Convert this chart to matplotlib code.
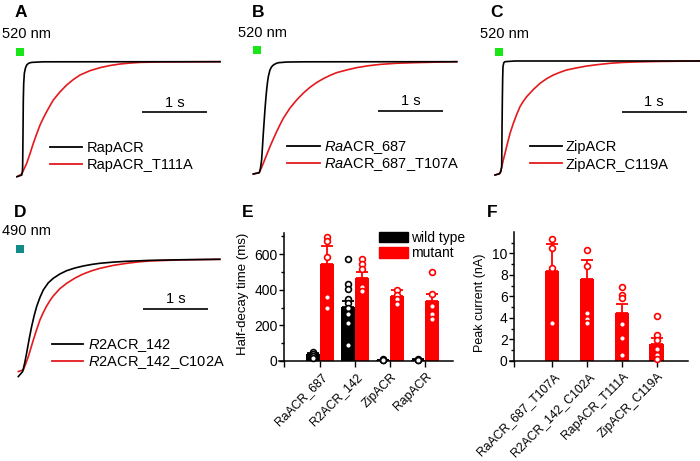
import matplotlib
matplotlib.use('Agg')
import matplotlib.pyplot as plt
from matplotlib.lines import Line2D
from matplotlib.patches import Rectangle
import matplotlib.transforms as mtransforms
import numpy as np

plt.rcParams['font.family'] = ['Liberation Sans', 'DejaVu Sans']
plt.rcParams['mathtext.fontset'] = 'custom'
plt.rcParams['mathtext.it'] = 'Liberation Sans:italic'
plt.rcParams['mathtext.rm'] = 'Liberation Sans'

# ---------------- data: normalized photocurrent traces (time in s) ----------------
tA_wt = [0, 0.072, 0.082, 0.087, 0.092, 0.097, 0.103, 0.113, 0.13, 0.149, 0.18, 0.226, 0.4, 3.123]
iA_wt = [-1, -0.986, -0.96, -0.913, -0.65, -0.333, -0.19, -0.101, -0.055, -0.029, -0.013, -0.006, -0.001, 0]
tA_mut = [0, 0.072, 0.149, 0.200, 0.251, 0.303, 0.354, 0.405, 0.456, 0.508, 0.559, 0.662, 0.764, 0.867,
          0.969, 1.123, 1.277, 1.431, 1.585, 1.738, 1.892, 2.2, 2.6, 3.123]
iA_mut = [-1, -0.977, -0.884, -0.80, -0.71, -0.628, -0.551, -0.49, -0.435, -0.382, -0.333, -0.262, -0.203,
          -0.155, -0.116, -0.078, -0.052, -0.033, -0.020, -0.012, -0.006, -0.002, -0.001, 0]

tB_wt = [0, 0.092, 0.11, 0.128, 0.141, 0.154, 0.167, 0.179, 0.192, 0.205, 0.218, 0.231, 0.256, 0.282,
         0.308, 0.346, 0.385, 0.513, 0.8, 3.13]
iB_wt = [-1, -0.988, -0.95, -0.875, -0.76, -0.638, -0.53, -0.43, -0.335, -0.252, -0.185, -0.134, -0.074,
         -0.045, -0.03, -0.017, -0.009, -0.003, -0.001, 0]
tB_mut = [0, 0.092, 0.154, 0.205, 0.256, 0.308, 0.359, 0.41, 0.462, 0.564, 0.667, 0.769, 0.872, 0.974,
          1.077, 1.18, 1.28, 1.44, 1.59, 1.77, 1.95, 2.2, 2.46, 2.8, 3.13]
iB_mut = [-1, -0.988, -0.905, -0.83, -0.757, -0.688, -0.623, -0.562, -0.504, -0.413, -0.341, -0.28, -0.228,
          -0.186, -0.151, -0.122, -0.098, -0.073, -0.053, -0.036, -0.024, -0.014, -0.009, -0.004, 0]

tC_wt = [0, 0.067, 0.09, 0.103, 0.108, 0.113, 0.118, 0.123, 0.135, 0.154, 0.3, 3.15]
iC_wt = [-1, -0.99, -0.97, -0.93, -0.6, -0.34, -0.15, -0.05, -0.015, -0.006, 0, 0]
tC_mut = [0, 0.077, 0.103, 0.128, 0.154, 0.179, 0.205, 0.231, 0.282, 0.333, 0.385, 0.436, 0.487, 0.59,
          0.692, 0.795, 0.897, 1.0, 1.10, 1.26, 1.41, 1.59, 1.77, 1.95, 2.13, 2.5, 3.15]
iC_mut = [-1, -0.985, -0.93, -0.868, -0.81, -0.751, -0.693, -0.635, -0.547, -0.47, -0.40, -0.353, -0.313,
          -0.25, -0.196, -0.155, -0.123, -0.099, -0.079, -0.06, -0.044, -0.031, -0.020, -0.013, -0.009,
          -0.004, 0]

tD_wt = [0, 0.067, 0.1, 0.128, 0.167, 0.205, 0.244, 0.282, 0.333, 0.385, 0.462, 0.538, 0.64, 0.744,
         0.872, 1.0, 1.128, 1.256, 1.46, 1.67, 2.03, 2.5, 3.1]
iD_wt = [-1, -0.957, -0.88, -0.80, -0.68, -0.574, -0.48, -0.403, -0.325, -0.261, -0.2, -0.162, -0.125,
         -0.097, -0.074, -0.057, -0.044, -0.034, -0.024, -0.017, -0.009, -0.004, 0]
tD_mut = [0, 0.077, 0.115, 0.154, 0.192, 0.231, 0.282, 0.333, 0.385, 0.436, 0.487, 0.538, 0.64, 0.744,
          0.872, 1.0, 1.128, 1.256, 1.46, 1.67, 1.85, 2.03, 2.5, 3.1]
iD_mut = [-0.957, -0.943, -0.89, -0.83, -0.76, -0.688, -0.60, -0.517, -0.453, -0.398, -0.352, -0.3125,
          -0.25, -0.205, -0.16, -0.125, -0.098, -0.077, -0.052, -0.034, -0.022, -0.014, -0.005, 0]

# ---------------- data: panel E (half-decay time, ms) ----------------
e_groups = ['RaACR_687', 'R2ACR_142', 'ZipACR', 'RapACR']
e_wt_mean = [40, 305, 4, 6]
e_wt_err = [6, 33, 2, 3]
e_mut_mean = [544, 467, 364, 338]
e_mut_err = [101, 34, 34, 36]
e_wt_pts = [[50, 40, 30, 19],
            [572, 432, 404, 348, 327, 295, 262, 215, 90],
            [11, 6, 3],
            [12, 8, 4]]
e_mut_pts = [[697, 675, 585, 361, 299],
             [570, 542, 516, 417, 392],
             [398, 372, 345, 320],
             [501, 374, 308, 262, 235]]

# ---------------- data: panel F (peak current, nA) ----------------
f_groups = ['RaACR_687_T107A', 'R2ACR_142_C102A', 'RapACR_T111A', 'ZipACR_C119A']
f_mean = [8.39, 7.58, 4.43, 1.58]
f_err = [2.44, 1.80, 0.86, 0.53]
f_pts = [[11.33, 10.46, 8.67, 3.50],
         [10.31, 8.85, 4.49, 3.90, 3.56],
         [6.90, 6.13, 5.82, 3.47, 2.11, 0.56],
         [4.21, 2.41, 1.95, 1.08, 0.56, 0.16]]

RED_TRACE = '#e3191c'
RED_BAR = '#ff0000'
GREEN = '#19e619'
TEAL = '#118a8a'

W, H = 700, 461
fig = plt.figure(figsize=(7, 4.61), dpi=100)


def fx(x):
    return x / W


def fy(y):
    return 1 - y / H


def ftext(x, y, s, **kw):
    return fig.text(fx(x), fy(y), s, **kw)


def fline(x0, x1, y, color):
    fig.add_artist(Line2D([fx(x0), fx(x1)], [fy(y), fy(y)], color=color, lw=1.3,
                          transform=fig.transFigure))


def trace_panel(letter, letter_xy, x0, yb, ppu, box, t_wt, i_wt, t_mut, i_mut,
                stim_xy, stim_color, nm_xy, nm_text, bar_x, bar_y, leg, pps=65.0):
    left, right, top, bottom = box
    ax = fig.add_axes([fx(left), fy(bottom), (right - left) / W, (bottom - top) / H])
    ax.set_xlim((left - x0) / pps, (right - x0) / pps)
    ax.set_ylim(-(bottom - yb) / ppu, (yb - top) / ppu)
    ax.axis('off')
    ax.plot(t_mut, i_mut, color=RED_TRACE, lw=1.2, solid_joinstyle='round')
    ax.plot(t_wt, i_wt, color='black', lw=1.2, solid_joinstyle='round')
    # stimulus marker
    ax.plot([(stim_xy[0] - x0) / pps], [(yb - stim_xy[1]) / ppu], marker='s', ms=5.8,
            mew=0, color=stim_color, clip_on=False)
    # scale bar 1 s
    ts = (bar_x - x0) / pps
    yv = (yb - bar_y) / ppu
    ax.plot([ts, ts + 1], [yv, yv], color='black', lw=1.2, solid_capstyle='butt')
    ax.text(ts + 0.5, (yb - (bar_y - 5.6)) / ppu, '1 s', ha='center', va='baseline', fontsize=10.5)
    ftext(nm_xy[0], nm_xy[1], nm_text, ha='left', va='baseline', fontsize=10.5)
    ftext(letter_xy[0], letter_xy[1], letter, ha='left', va='baseline', fontsize=12.5,
          fontweight='bold')
    lx0, lx1, ly1, ly2, tx, lab1, lab2 = leg
    fline(lx0, lx1, ly1, 'black')
    fline(lx0, lx1, ly2, RED_TRACE)
    ftext(tx, ly1 + 5.2, lab1, ha='left', va='baseline', fontsize=10.5)
    ftext(tx, ly2 + 5.2, lab2, ha='left', va='baseline', fontsize=10.5)
    return ax


trace_panel('A', (15, 17), 17, 61.7, 115, (5, 228, 40, 185), tA_wt, iA_wt, tA_mut, iA_mut,
            (20, 52), GREEN, (1.7, 38.3), '520 nm', 142, 112.3,
            (50, 82, 146.7, 164, 87, 'RapACR', 'RapACR_T111A'))
trace_panel('B', (251.5, 16.7), 253.3, 61.7, 112.3, (240, 462, 40, 185), tB_wt, iB_wt, tB_mut, iB_mut,
            (256.7, 50.3), GREEN, (238.3, 37.3), '520 nm', 378.3, 111,
            (287.3, 320, 145.7, 163.3, 324, r'$\mathit{Ra}$ACR_687', r'$\mathit{Ra}$ACR_687_T107A'))
trace_panel('C', (490, 17), 495, 61, 114, (485, 700, 40, 185), tC_wt, iC_wt, tC_mut, iC_mut,
            (498.8, 51.7), GREEN, (480, 38.3), '520 nm', 621.7, 112,
            (530, 561.7, 145.7, 163.3, 566, 'ZipACR', 'ZipACR_C119A'))
trace_panel('D', (14, 217), 18.3, 259.3, 117.3, (5, 228, 240, 385), tD_wt, iD_wt, tD_mut, iD_mut,
            (20, 248.7), TEAL, (1.7, 235), '490 nm', 143.3, 309,
            (51.7, 83.3, 344, 361, 88, r'$\mathit{R}$2ACR_142', r'$\mathit{R}$2ACR_142_C102A'))


def style_bar_axes(ax, spine_x, tick_labels, major, minor):
    for s in ['top', 'right']:
        ax.spines[s].set_visible(False)
    ax.spines['left'].set_position(('data', spine_x))
    for s in ['left', 'bottom']:
        ax.spines[s].set_linewidth(1.1)
    ax.set_yticks(major)
    ax.set_yticks(minor, minor=True)
    ax.tick_params(axis='y', which='major', direction='out', length=3.3, width=1.0, pad=1.5,
                   labelsize=10)
    ax.tick_params(axis='y', which='minor', direction='out', length=2.0, width=1.0)
    ax.set_xticks([spine_x] + list(range(len(tick_labels))))
    ax.set_xticklabels([''] + tick_labels, rotation=45, ha='right', va='top',
                       rotation_mode='anchor', fontsize=8.8)
    ax.tick_params(axis='x', direction='out', length=4.5, width=1.0, pad=2.5)
    off = mtransforms.ScaledTranslation(1 / 100, 0, fig.dpi_scale_trans)
    for lab in ax.get_xticklabels():
        lab.set_transform(lab.get_transform() + off)


# ---------------- panel E ----------------
e_x0, e_dx = 320.0, 35.0
e_left, e_right, e_top, e_bottom = 279, 453, 233.5, 361
axE = fig.add_axes([fx(e_left), fy(e_bottom), (e_right - e_left) / W, (e_bottom - e_top) / H])
axE.set_xlim((e_left - e_x0) / e_dx, (e_right - e_x0) / e_dx)
axE.set_ylim(0, 715)
xe = np.arange(len(e_groups))
axE.bar(xe - 0.2, e_wt_mean, width=0.4, color='black', zorder=2)
axE.bar(xe + 0.2, e_mut_mean, width=0.4, color=RED_BAR, zorder=2)
axE.errorbar(xe - 0.2, e_wt_mean, yerr=[np.zeros(len(xe)), e_wt_err], fmt='none', ecolor='black',
             elinewidth=1.3, capsize=4.3, capthick=1.3, zorder=3)
axE.errorbar(xe + 0.2, e_mut_mean, yerr=[np.zeros(len(xe)), e_mut_err], fmt='none', ecolor=RED_BAR,
             elinewidth=1.3, capsize=4.3, capthick=1.3, zorder=3)
for i, pts in enumerate(e_wt_pts):
    axE.plot([i - 0.2] * len(pts), pts, 'o', ms=4.2, mfc='white', mec='black', mew=1.2,
             zorder=4, clip_on=False)
for i, pts in enumerate(e_mut_pts):
    axE.plot([i + 0.2] * len(pts), pts, 'o', ms=4.2, mfc='white', mec=RED_BAR, mew=1.2,
             zorder=4, clip_on=False)
style_bar_axes(axE, (284.3 - e_x0) / e_dx, e_groups, [0, 200, 400, 600], [100, 300, 500, 700])
ftext(243, 293.5, 'Half-decay time (ms)', rotation=90, ha='center', va='center', fontsize=9.5)
ftext(241.5, 217, 'E', ha='left', va='baseline', fontsize=12.5, fontweight='bold')
# legend of E
fig.add_artist(Rectangle((fx(379.3), fy(242.3)), (407.7 - 379.3) / W, (242.3 - 231.7) / H,
                         color='black', transform=fig.transFigure))
fig.add_artist(Rectangle((fx(379.3), fy(257.7)), (407.7 - 379.3) / W, (257.7 - 246.7) / H,
                         color=RED_BAR, transform=fig.transFigure))
ftext(411, 241.7, 'wild type', ha='left', va='baseline', fontsize=10)
ftext(411, 256.7, 'mutant', ha='left', va='baseline', fontsize=10)

# ---------------- panel F ----------------
f_x0, f_dx = 551.9, 34.9
f_left, f_right, f_top, f_bottom = 510, 688, 231.8, 361
axF = fig.add_axes([fx(f_left), fy(f_bottom), (f_right - f_left) / W, (f_bottom - f_top) / H])
axF.set_xlim((f_left - f_x0) / f_dx, (f_right - f_x0) / f_dx)
axF.set_ylim(0, 12)
xf = np.arange(len(f_groups))
axF.bar(xf, f_mean, width=0.41, color=RED_BAR, zorder=2)
axF.errorbar(xf, f_mean, yerr=[np.zeros(len(xf)), f_err], fmt='none', ecolor=RED_BAR,
             elinewidth=1.3, capsize=4.3, capthick=1.3, zorder=3)
for i, pts in enumerate(f_pts):
    axF.plot([i] * len(pts), pts, 'o', ms=4.2, mfc='white', mec=RED_BAR, mew=1.2,
             zorder=4, clip_on=False)
style_bar_axes(axF, (514.3 - f_x0) / f_dx, f_groups, [0, 2, 4, 6, 8, 10], [1, 3, 5, 7, 9, 11])
ftext(480, 302.7, 'Peak current (nA)', rotation=90, ha='center', va='center', fontsize=9)
ftext(486.5, 217, 'F', ha='left', va='baseline', fontsize=12.5, fontweight='bold')

fig.savefig('out.png', dpi=100)
